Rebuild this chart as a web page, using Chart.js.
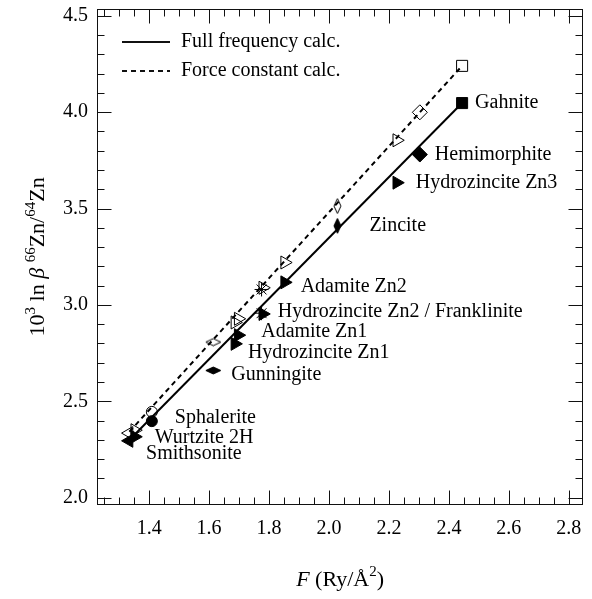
<!DOCTYPE html>
<html>
<head>
<meta charset="utf-8">
<script src="https://cdn.jsdelivr.net/npm/chart.js@4"></script>
<style>
  html, body { margin: 0; padding: 0; background: #fff; }
</style>
</head>
<body>
<canvas id="zincChart" width="592" height="599"></canvas>
<script>
// data
const minerals = ['Smithsonite', 'Wurtzite 2H', 'Sphalerite', 'Gunningite', 'Hydrozincite Zn1', 'Adamite Zn1',
                  'Hydrozincite Zn2', 'Franklinite', 'Adamite Zn2', 'Zincite', 'Hydrozincite Zn3', 'Hemimorphite', 'Gahnite'];
const pointLabels = ['Smithsonite', 'Wurtzite 2H', 'Sphalerite', 'Gunningite', 'Hydrozincite Zn1', 'Adamite Zn1',
                     'Hydrozincite Zn2 / Franklinite', '', 'Adamite Zn2', 'Zincite', 'Hydrozincite Zn3', 'Hemimorphite', 'Gahnite'];
const forceConstant = [1.333, 1.352, 1.409, 1.614, 1.686, 1.697, 1.779, 1.775, 1.852, 2.028, 2.226, 2.303, 2.444];
const betaFullFreq = [2.295, 2.316, 2.397, 2.660, 2.798, 2.843, 2.953, 2.957, 3.117, 3.410, 3.634, 3.780, 4.047];
const betaForceConst = [2.335, 2.350, 2.445, 2.807, 2.909, 2.928, 3.089, 3.080, 3.220, 3.513, 3.854, 3.999, 4.240];
const fitFullFreq = [[1.328, 2.290], [2.444, 4.047]];
const fitForceConst = [[1.334, 2.342], [2.444, 4.240]];
const xTickLabels = ['1.4', '1.6', '1.8', '2.0', '2.2', '2.4', '2.6', '2.8'];
const yTickLabels = ['2.0', '2.5', '3.0', '3.5', '4.0', '4.5'];
const legendLabels = ['Full frequency calc.', 'Force constant calc.'];

const SERIF = "'Liberation Serif', 'DejaVu Serif', serif";

// marker shapes: [pointStyle, rotation, radius]
function diamond(w, h, filled) {
  const c = document.createElement('canvas');
  c.width = w + 2; c.height = h + 2;
  const g = c.getContext('2d');
  g.beginPath();
  g.moveTo(c.width / 2, 1);
  g.lineTo(w + 1, c.height / 2);
  g.lineTo(c.width / 2, h + 1);
  g.lineTo(1, c.height / 2);
  g.closePath();
  if (filled) { g.fillStyle = '#000'; g.fill(); }
  g.strokeStyle = '#000'; g.lineWidth = 1; g.stroke();
  return c;
}
const shapes = {
  'Smithsonite': ['triangle', -90, 7.5],
  'Wurtzite 2H': ['triangle', -30, 7.5],
  'Sphalerite': ['circle', 0, 5.5],
  'Gunningite': ['wide', 0, 7],
  'Hydrozincite Zn1': ['triangle', 90, 7.5],
  'Adamite Zn1': ['triangle', -30, 7.5],
  'Hydrozincite Zn2': ['triangle', 90, 7.5],
  'Franklinite': ['star', 0, 7],
  'Adamite Zn2': ['triangle', -30, 7.5],
  'Zincite': ['thin', 0, 7],
  'Hydrozincite Zn3': ['triangle', 90, 7.5],
  'Hemimorphite': ['rectRot', 0, 7.5],
  'Gahnite': ['rect', 0, 7.8]
};
function pointStyles(filled) {
  return minerals.map(m => {
    const s = shapes[m][0];
    if (s === 'wide') return diamond(15, 7, filled);
    if (s === 'thin') return diamond(7, 15, filled);
    return s;
  });
}

// label offsets (px) from the filled marker
const labelNudge = {
  'Gahnite': [13, 0], 'Hemimorphite': [15, 0], 'Hydrozincite Zn3': [19, 0], 'Zincite': [32, 0],
  'Adamite Zn2': [16, 4], 'Hydrozincite Zn2': [15, -2], 'Adamite Zn1': [23, -3], 'Hydrozincite Zn1': [13, 9],
  'Gunningite': [18, 4], 'Sphalerite': [23, -3], 'Wurtzite 2H': [20, 1], 'Smithsonite': [17, 13]
};

function drawRich(ctx, parts, cx, cy, angle) {
  ctx.save();
  ctx.translate(cx, cy);
  ctx.rotate(angle);
  ctx.textBaseline = 'alphabetic';
  ctx.fillStyle = '#000';
  let total = 0;
  parts.forEach(p => { ctx.font = p.font; p.w = ctx.measureText(p.text).width; total += p.w; });
  let xx = -total / 2;
  parts.forEach(p => { ctx.font = p.font; ctx.fillText(p.text, xx, p.dy || 0); xx += p.w; });
  ctx.restore();
}

const isMultiple = (v, step) => Math.abs(v / step - Math.round(v / step)) < 1e-6;
const noPad = scale => { scale.paddingTop = 0; scale.paddingBottom = 0; scale.paddingLeft = 0; scale.paddingRight = 0; };

const frameTicks = {
  id: 'frameTicks',
  afterDraw(chart) {
    const { ctx, chartArea: a, scales: { x, y } } = chart;
    ctx.save();
    ctx.strokeStyle = '#111';
    ctx.lineWidth = 1;
    const L = Math.round(a.left) + 0.5, R = Math.round(a.right) - 0.5;
    const T = Math.round(a.top) + 0.5, B = Math.round(a.bottom) - 0.5;
    ctx.strokeRect(L, T, R - L, B - T);
    ctx.beginPath();
    for (let i = 25; i <= 56; i++) {
      const v = i * 0.05;
      const px = Math.round(x.getPixelForValue(v)) + 0.5;
      const len = isMultiple(v, 0.2) ? 14 : 7;
      ctx.moveTo(px, B); ctx.lineTo(px, B - len);
      ctx.moveTo(px, T); ctx.lineTo(px, T + len);
    }
    for (let i = 20; i <= 45; i++) {
      const v = i * 0.1;
      const py = Math.round(y.getPixelForValue(v)) + 0.5;
      const len = isMultiple(v, 0.5) ? 14 : 7;
      ctx.moveTo(L, py); ctx.lineTo(L + len, py);
      ctx.moveTo(R, py); ctx.lineTo(R - len, py);
    }
    ctx.stroke();

    // point labels
    ctx.fillStyle = '#000';
    ctx.font = '20px ' + SERIF;
    ctx.textBaseline = 'middle';
    minerals.forEach((m, i) => {
      if (!pointLabels[i]) return;
      const n = labelNudge[m];
      ctx.fillText(pointLabels[i], x.getPixelForValue(forceConstant[i]) + n[0],
                   y.getPixelForValue(betaFullFreq[i]) + n[1]);
    });

    // legend
    [[], [5, 4]].forEach((dash, k) => {
      const ly = 42 + k * 29;
      ctx.setLineDash(dash);
      ctx.lineWidth = 2;
      ctx.beginPath(); ctx.moveTo(122, ly); ctx.lineTo(170, ly); ctx.stroke();
      ctx.setLineDash([]);
      ctx.fillText(legendLabels[k], 181, ly);
    });

    // axis titles
    const F = '22px ' + SERIF, S = '15px ' + SERIF;
    drawRich(ctx, [
      { text: '10', font: F }, { text: '3', font: S, dy: -9 }, { text: ' ln ', font: F },
      { text: 'β', font: 'italic ' + F }, { text: ' ', font: F }, { text: '66', font: S, dy: -9 },
      { text: 'Zn/', font: F }, { text: '64', font: S, dy: -9 }, { text: 'Zn', font: F }
    ], 44, (a.top + a.bottom) / 2, -Math.PI / 2);
    drawRich(ctx, [
      { text: 'F', font: 'italic ' + F }, { text: ' (Ry/Å', font: F },
      { text: '2', font: S, dy: -10 }, { text: ')', font: F }
    ], (a.left + a.right) / 2, 586, 0);
    ctx.restore();
  }
};

const ctx = document.getElementById('zincChart').getContext('2d');
const fullStyles = pointStyles(true);
const forceStyles = pointStyles(false);

new Chart(ctx, {
  type: 'scatter',
  data: {
    datasets: [{
      label: legendLabels[0],
      data: fitFullFreq.map(p => ({ x: p[0], y: p[1] })),
      showLine: true,
      borderColor: '#000',
      borderWidth: 2,
      pointRadius: 0
    }, {
      label: legendLabels[1],
      data: fitForceConst.map(p => ({ x: p[0], y: p[1] })),
      showLine: true,
      borderColor: '#000',
      borderWidth: 2,
      borderDash: [5, 4],
      pointRadius: 0
    }, {
      label: 'full',
      data: forceConstant.map((f, i) => ({ x: f, y: betaFullFreq[i] })),
      pointStyle: fullStyles,
      rotation: minerals.map(m => shapes[m][1]),
      pointRadius: minerals.map(m => shapes[m][2]),
      backgroundColor: '#000',
      borderColor: '#000',
      borderWidth: 1
    }, {
      label: 'force',
      data: forceConstant.map((f, i) => ({ x: f, y: betaForceConst[i] })),
      pointStyle: forceStyles,
      rotation: minerals.map(m => shapes[m][1]),
      pointRadius: minerals.map(m => shapes[m][2]),
      backgroundColor: 'rgba(0,0,0,0)',
      borderColor: '#000',
      borderWidth: 1
    }]
  },
  options: {
    responsive: false,
    animation: false,
    devicePixelRatio: 1,
    layout: { padding: { top: 7, right: 4, left: 0, bottom: 0 } },
    plugins: {
      legend: { display: false },
      tooltip: { enabled: false }
    },
    scales: {
      x: {
        type: 'linear',
        min: 1.226,
        max: 2.848,
        grid: { display: false, drawTicks: false },
        border: { display: false },
        afterBuildTicks: scale => { scale.ticks = xTickLabels.map(t => ({ value: parseFloat(t) })); },
        afterFit: scale => { scale.height = 94; noPad(scale); },
        ticks: {
          autoSkip: false,
          maxRotation: 0,
          padding: 12,
          color: '#000',
          font: { family: SERIF, size: 20 },
          callback: v => xTickLabels.find(t => Math.abs(parseFloat(t) - v) < 1e-6)
        }
      },
      y: {
        type: 'linear',
        min: 1.962,
        max: 4.536,
        grid: { display: false, drawTicks: false },
        border: { display: false },
        afterBuildTicks: scale => { scale.ticks = yTickLabels.map(t => ({ value: parseFloat(t) })); },
        afterFit: scale => { scale.width = 97; noPad(scale); },
        ticks: {
          autoSkip: false,
          padding: 9,
          color: '#000',
          font: { family: SERIF, size: 20 },
          callback: v => yTickLabels.find(t => Math.abs(parseFloat(t) - v) < 1e-6)
        }
      }
    }
  },
  plugins: [frameTicks]
});
</script>
</body>
</html>
